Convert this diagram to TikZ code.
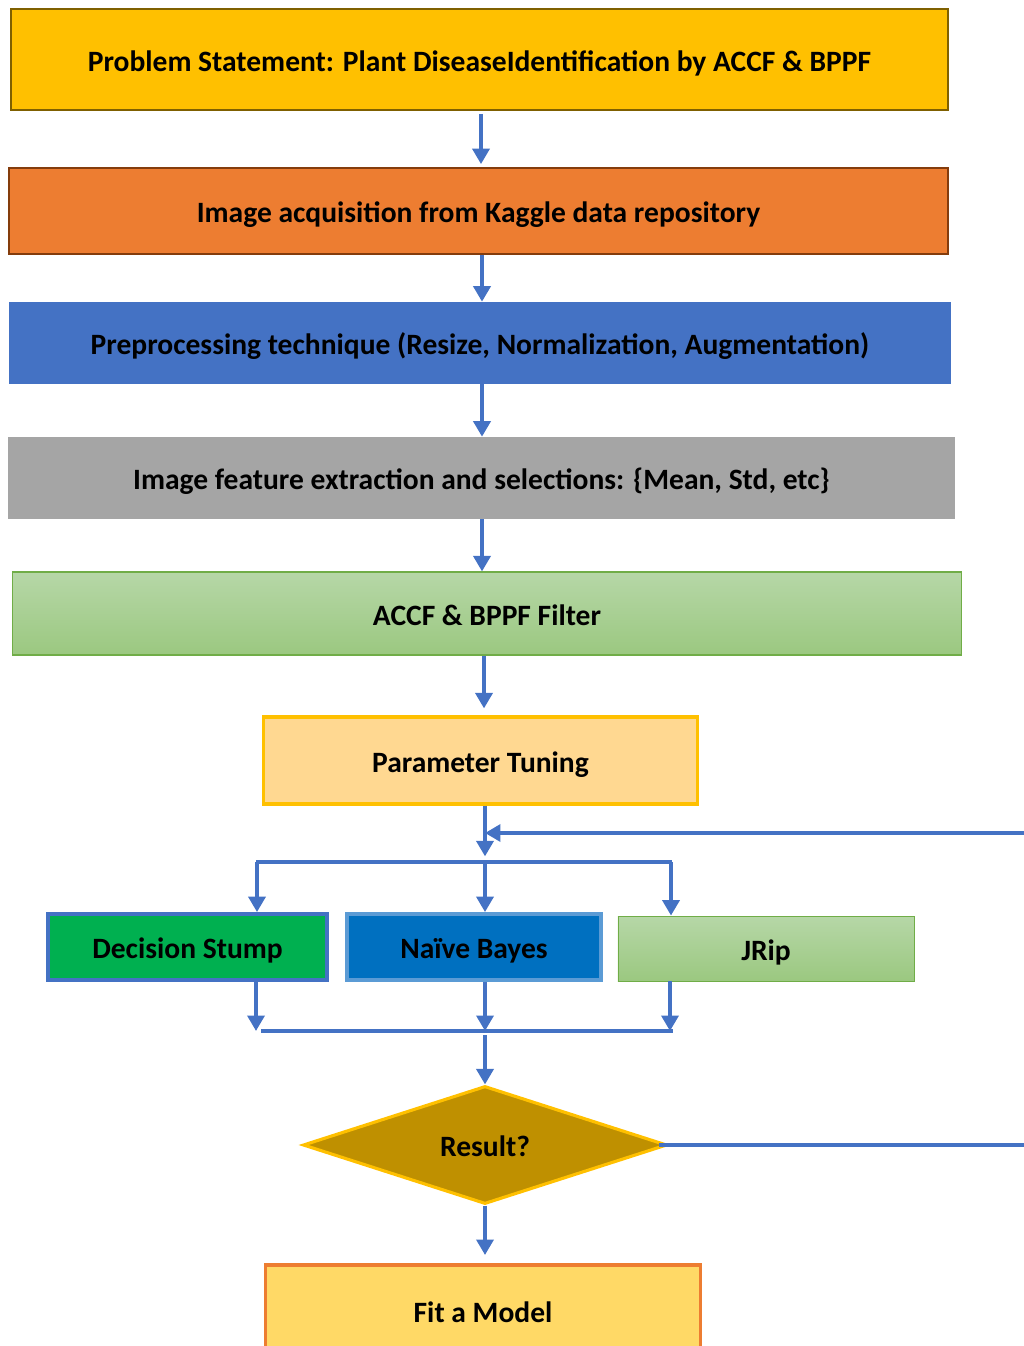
\documentclass[tikz,border=0pt]{standalone}
\usepackage{fontspec}
\setmainfont{Carlito}
\usetikzlibrary{arrows.meta,shapes.geometric,calc}
\definecolor{probfill}{RGB}{255,192,0}
\definecolor{probline}{RGB}{127,96,0}
\definecolor{acqfill}{RGB}{237,125,49}
\definecolor{acqline}{RGB}{132,60,12}
\definecolor{prefill}{RGB}{68,114,196}
\definecolor{featfill}{RGB}{165,165,165}
\definecolor{greentop}{RGB}{182,215,167}
\definecolor{greenbot}{RGB}{155,200,128}
\definecolor{greenline}{RGB}{112,173,71}
\definecolor{tunefill}{RGB}{255,216,145}
\definecolor{dsfill}{RGB}{0,176,80}
\definecolor{nbfill}{RGB}{0,112,192}
\definecolor{nbline}{RGB}{91,155,213}
\definecolor{resfill}{RGB}{191,144,0}
\definecolor{fitfill}{RGB}{255,217,102}
\definecolor{flowblue}{RGB}{68,114,196}
\tikzset{
  box/.style={draw=none,rectangle,inner sep=0pt,text height=17pt,text depth=0pt,font=\fontsize{21}{25}\selectfont\bfseries},
  flow/.style={draw=flowblue,line width=2.7pt,-{Triangle[length=11pt,width=12pt]}},
  branch/.style={draw=flowblue,line width=2.7pt}
}
\begin{document}
\begin{tikzpicture}[x=0.025cm,y=-0.025cm]
\useasboundingbox (0,0) rectangle (1024,1346);
\clip (0,0) rectangle (1024,1346);
% Boxes
\node[box,fill=probfill,draw=probline,line width=1.5pt,minimum width=23.425cm,minimum height=2.525cm] (prob) at (479.5,59.5) {Problem Statement: Plant DiseaseIdentification by ACCF \& BPPF};
\node[box,fill=acqfill,draw=acqline,line width=1.5pt,minimum width=23.475cm,minimum height=2.15cm] (acq) at (478.5,211) {Image acquisition from Kaggle data repository};
\node[box,fill=prefill,minimum width=23.55cm,minimum height=2.05cm] (pre) at (480,343) {Preprocessing technique (Resize, Normalization, Augmentation)};
\node[box,fill=featfill,minimum width=23.675cm,minimum height=2.05cm] (feat) at (481.5,478) {Image feature extraction and selections: \{Mean, Std, etc\}};
\node[box,top color=greentop,bottom color=greenbot,draw=greenline,line width=0.8pt,minimum width=23.7cm,minimum height=2.075cm] (filt) at (487,613.5) {ACCF \& BPPF Filter};
\node[box,fill=tunefill,draw=probfill,line width=2.2pt,minimum width=10.825cm,minimum height=2.175cm] (tune) at (480.5,760.5) {Parameter Tuning};
% Classifiers
\node[box,fill=dsfill,draw=flowblue,line width=2.7pt,minimum width=6.975cm,minimum height=1.65cm] (ds) at (187.5,947) {Decision Stump};
\node[box,fill=nbfill,draw=nbline,line width=2.7pt,minimum width=6.35cm,minimum height=1.65cm] (nb) at (474,947) {Naïve Bayes};
\node[box,top color=greentop,bottom color=greenbot,draw=greenline,line width=0.6pt,minimum width=7.4cm,minimum height=1.625cm] (jrip) at (766,948.5) {JRip};
% Decision and model
\node[box,diamond,fill=resfill,draw=probfill,line width=2.2pt,minimum width=9.1cm,minimum height=2.95cm] (res) at (485,1145) {Result?};
\node[box,fill=fitfill,draw=acqfill,line width=2.2pt,minimum width=10.85cm,minimum height=2.3cm] (fit) at (483,1311) {Fit a Model};
% Junctions
\coordinate (split) at (485,862);
\coordinate (splitL) at (257,862);
\coordinate (splitR) at (671,862);
\coordinate (fbin) at (1024,833);
\coordinate (merge) at (485,1031);
\coordinate (mergeL) at (256,1031);
\coordinate (mergeR) at (670,1031);
% Connectors
\draw[flow,shorten <=2pt,shorten >=2pt] (prob.south -| 481,0) -- (acq.north -| 481,0);
\draw[flow] (acq.south -| 482,0) -- (pre.north -| 482,0);
\draw[flow] (pre.south -| 482,0) -- (feat.north -| 482,0);
\draw[flow] (feat.south -| 482,0) -- (filt.north -| 482,0);
\draw[flow,shorten >=5pt] (filt.south -| 484,0) -- (tune.north -| 484,0);
\draw[flow,shorten >=4pt] (tune.south -| split) -- (split);
\draw[flow] (fbin) -- (fbin -| split);
\draw[branch] ($(splitL)+(-1,0)$) -- ($(splitR)+(1,0)$);
\draw[flow] (splitL) -- (ds.north -| splitL);
\draw[flow] (split) -- (nb.north -| split);
\draw[flow] (splitR) -- (jrip.north -| splitR);
\draw[flow] (ds.south -| mergeL) -- (mergeL);
\draw[flow] (nb.south -| merge) -- (merge);
\draw[flow] (jrip.south -| mergeR) -- (mergeR);
\draw[branch] ($(mergeL)+(5,0)$) -- ($(mergeR)+(3,0)$);
\draw[flow,shorten <=3pt] (merge) -- (res.north);
\draw[branch] ($(res.east)+(-10,0)$) -- (res.east -| fbin);
\draw[flow,shorten >=6pt] (res.south) -- (res.south |- fit.north);
\end{tikzpicture}
\end{document}
